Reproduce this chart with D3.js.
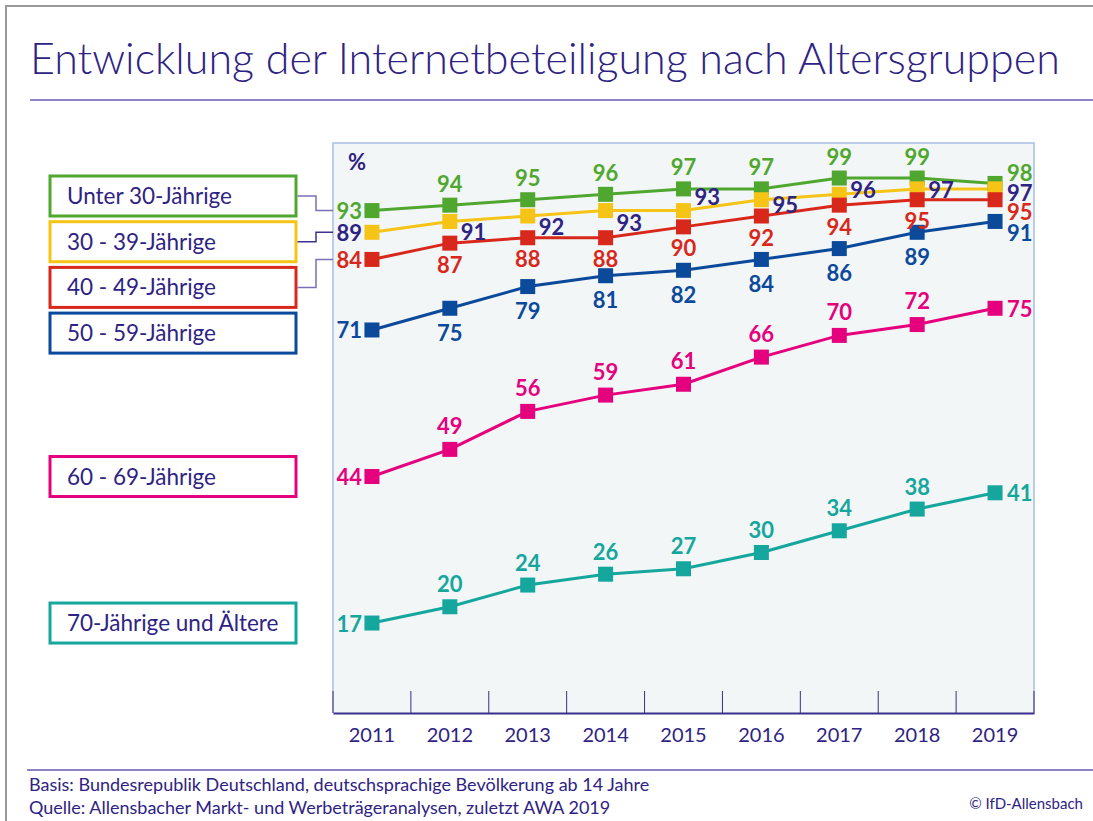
<!DOCTYPE html>
<html>
<head>
<meta charset="utf-8">
<script src="https://cdn.jsdelivr.net/npm/d3@7"></script>
<style>
  body { margin: 0; background: #fff; }
  svg { display: block; font-family: Lato, "Open Sans", sans-serif; }
</style>
</head>
<body>
<svg id="chart" width="1093" height="821"></svg>
<script>
// Daten
const jahre = ["2011", "2012", "2013", "2014", "2015", "2016", "2017", "2018", "2019"];
const gruppen = ["Unter 30-Jährige", "30 - 39-Jährige", "40 - 49-Jährige", "50 - 59-Jährige", "60 - 69-Jährige", "70-Jährige und Ältere"];
const unter30 = [93, 94, 95, 96, 97, 97, 99, 99, 98];
const j30bis39 = [89, 91, 92, 93, 93, 95, 96, 97, 97];
const j40bis49 = [84, 87, 88, 88, 90, 92, 94, 95, 95];
const j50bis59 = [71, 75, 79, 81, 82, 84, 86, 89, 91];
const j60bis69 = [44, 49, 56, 59, 61, 66, 70, 72, 75];
const ab70 = [17, 20, 24, 26, 27, 30, 34, 38, 41];

const werte = [unter30, j30bis39, j40bis49, j50bis59, j60bis69, ab70];
const farben = ["#4fa72f", "#f5c416", "#d8281b", "#0b4a9b", "#e5007e", "#15a69d"];
const textFarbe = "#2e2383";
const labelFarben = ["#4fa72f", textFarbe, "#d8281b", "#0b4a9b", "#e5007e", "#15a69d"];

// Beschriftungs-Platzierung (mittlere Punkte: oben/unten/rechts; letzter Punkt rechts)
const labelMitte = ["oben", "rechts", "unten", "unten", "oben", "oben"];
const labelMitteDy = [-22, 0, 21, 24, -24, -23];
const labelEndeDy = [-11, 4, 12, 11, 0, 0];
const gelbDy = [0, 10, 10, 12, -14, 5, -5, 1, 0];

const svg = d3.select("#chart");
const W = 1093, H = 821;

// Rahmen
svg.append("path")
  .attr("d", `M6,${H} V6 H${W}`)
  .attr("fill", "none").attr("stroke", "#9a9a9a").attr("stroke-width", 2);

// Titel
const titel = svg.append("text")
  .attr("x", 30).attr("y", 74)
  .attr("fill", textFarbe)
  .style("font-size", "42px").style("font-weight", 300)
  .text("Entwicklung der Internetbeteiligung nach Altersgruppen");
const tl = titel.node().getComputedTextLength();
titel.style("font-size", (42 * 1030 / tl) + "px");

svg.append("line").attr("x1", 30).attr("x2", W).attr("y1", 100).attr("y2", 100)
  .attr("stroke", "#8d84c8").attr("stroke-width", 2);

// Skalen
const x = d3.scaleBand().domain(jahre).range([333, 1034]);
const y = d3.scaleLinear().domain([0, 100]).range([715.3, 172.6]);
const plotTop = 143, plotBottom = 713;

// Plotfläche
svg.append("rect")
  .attr("x", x.range()[0]).attr("y", plotTop)
  .attr("width", x.range()[1] - x.range()[0]).attr("height", plotBottom - plotTop)
  .attr("fill", "#f3f6f6");
svg.append("path")
  .attr("d", `M${x.range()[0]},${plotBottom} V${plotTop} H${x.range()[1]} V${plotBottom}`)
  .attr("fill", "none").attr("stroke", "#a9bee3").attr("stroke-width", 1.5);

// X-Achse
const achse = svg.append("g").attr("transform", `translate(0,${plotBottom})`)
  .call(d3.axisBottom(x).tickSize(0).tickPadding(15));
achse.select(".domain").attr("stroke", "#3a2e8e").attr("stroke-width", 2);
achse.selectAll("text")
  .attr("fill", textFarbe)
  .style("font-size", "20px")
  .style("font-family", "Lato, sans-serif");
const grenzen = jahre.map(d => x(d)).concat([x.range()[1]]);
svg.append("g").selectAll("line").data(grenzen).join("line")
  .attr("x1", d => d).attr("x2", d => d)
  .attr("y1", plotBottom - 22).attr("y2", plotBottom)
  .attr("stroke", "#3a2e8e").attr("stroke-width", 1);

// Prozentzeichen
svg.append("text").attr("x", 357).attr("y", 170)
  .attr("text-anchor", "middle")
  .attr("fill", textFarbe).style("font-size", "22px").style("font-weight", "bold")
  .text("%");

const cx = d => x(d) + x.bandwidth() / 2;

// Linien und Marker
const linie = d3.line().x((v, i) => cx(jahre[i])).y(v => y(v));
werte.forEach((reihe, s) => {
  svg.append("path").datum(reihe)
    .attr("d", linie)
    .attr("fill", "none").attr("stroke", farben[s]).attr("stroke-width", 3);
});
werte.forEach((reihe, s) => {
  svg.append("g").selectAll("rect").data(reihe).join("rect")
    .attr("x", (v, i) => cx(jahre[i]) - 7.5)
    .attr("y", v => y(v) - 7.5)
    .attr("width", 15).attr("height", 15)
    .attr("fill", farben[s]);
});

// Werte-Beschriftung
werte.forEach((reihe, s) => {
  svg.append("g").selectAll("text").data(reihe).join("text")
    .attr("fill", labelFarben[s])
    .style("font-size", "22px").style("font-weight", "bold")
    .attr("dominant-baseline", "central")
    .each(function(v, i) {
      const t = d3.select(this);
      const px = cx(jahre[i]), py = y(v);
      if (i === 0) {
        t.attr("x", px - 10).attr("y", py).attr("text-anchor", "end");
      } else if (i === reihe.length - 1) {
        t.attr("x", px + 12).attr("y", py + labelEndeDy[s]).attr("text-anchor", "start");
      } else if (labelMitte[s] === "rechts") {
        t.attr("x", px + 11).attr("y", py + gelbDy[i]).attr("text-anchor", "start");
      } else {
        t.attr("x", px).attr("y", py + labelMitteDy[s]).attr("text-anchor", "middle");
      }
    })
    .text(v => v);
});

// Legende
const boxX = 50, boxW = 246, boxH = 40;
const boxMitte = gruppen.map((g, s) => s < 4 ? 196 + s * 45.7 : y(werte[s][0]));
gruppen.forEach((g, s) => {
  svg.append("rect")
    .attr("x", boxX).attr("y", boxMitte[s] - boxH / 2)
    .attr("width", boxW).attr("height", boxH)
    .attr("fill", "#fff").attr("stroke", farben[s]).attr("stroke-width", 3);
  svg.append("text")
    .attr("x", 67).attr("y", boxMitte[s] + 8)
    .attr("fill", textFarbe).style("font-size", "22.5px")
    .text(g);
});
// Verbindungslinien für die oberen drei Gruppen
const verbFarben = ["#7a70b8", "#3b3190", "#7a70b8"];
[0, 1, 2].forEach(s => {
  const yz = y(werte[s][0]);
  svg.append("path")
    .attr("d", `M${boxX + boxW + 1.5},${boxMitte[s]} H316 V${yz} H${x.range()[0]}`)
    .attr("fill", "none").attr("stroke", verbFarben[s]).attr("stroke-width", 1.5);
});

// Fußzeile
svg.append("line").attr("x1", 27).attr("x2", W).attr("y1", 770).attr("y2", 770)
  .attr("stroke", "#8d84c8").attr("stroke-width", 2);
svg.append("text").attr("x", 29).attr("y", 791)
  .attr("fill", textFarbe).style("font-size", "18px")
  .text("Basis: Bundesrepublik Deutschland, deutschsprachige Bevölkerung ab 14 Jahre");
svg.append("text").attr("x", 29).attr("y", 814)
  .attr("fill", textFarbe).style("font-size", "18px")
  .text("Quelle: Allensbacher Markt- und Werbeträgeranalysen, zuletzt AWA 2019");
svg.append("text").attr("x", 1083).attr("y", 809)
  .attr("text-anchor", "end")
  .attr("fill", textFarbe).style("font-size", "15px")
  .text("© IfD-Allensbach");
</script>
</body>
</html>
